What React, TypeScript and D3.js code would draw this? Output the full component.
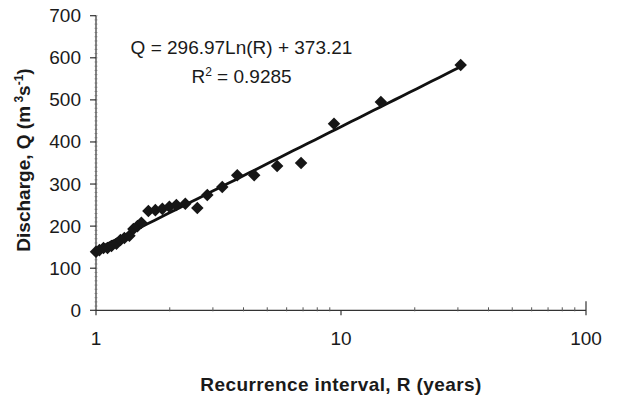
import React from "react";
import * as d3 from "d3";

const recurrence = [1.0, 1.033, 1.073, 1.114, 1.157, 1.212, 1.258, 1.306, 1.369, 1.421, 1.476, 1.532, 1.636, 1.747, 1.866, 1.993, 2.128, 2.315, 2.591, 2.846, 3.276, 3.771, 4.422, 5.487, 6.871, 9.365, 14.55, 30.8];
const discharge = [139, 143, 148, 148, 153, 158, 167, 172, 177, 193, 200, 208, 236, 238, 241, 246, 250, 253, 243, 274, 293, 321, 321, 343, 350, 443, 495, 583];
const yTicks = [0, 100, 200, 300, 400, 500, 600, 700];
const xTicks = [1, 10, 100];
const equationText = "Q = 296.97Ln(R) + 373.21";
const r2Value = "0.9285";

const W = 644, H = 398;
const left = 96, right = 586, top = 15.7, bottom = 310.3;

export default function App() {
  const x = d3.scaleLog().domain([1, 100]).range([left, right]);
  const y = d3.scaleLinear().domain([0, 700]).range([bottom, top]);

  // log regression fitted from the data
  const lx = recurrence.map((r) => Math.log(r));
  const mx = d3.mean(lx)!;
  const my = d3.mean(discharge)!;
  let sxy = 0, sxx = 0;
  lx.forEach((v, i) => { sxy += (v - mx) * (discharge[i] - my); sxx += (v - mx) * (v - mx); });
  const b = sxy / sxx;
  const a = my - b * mx;
  const rMin = d3.min(recurrence)!, rMax = d3.max(recurrence)!;
  const trendR = d3.range(0, 51).map((i) => rMin * Math.pow(rMax / rMin, i / 50));
  const line = d3.line<number>().x((r) => x(r)).y((r) => y(a + b * Math.log(r)));

  const minorX: number[] = [];
  [1, 10].forEach((dec) => { for (let k = 2; k <= 9; k++) minorX.push(dec * k); });
  const minorY = d3.range(0, 701, 10);

  const diamond = d3.symbol().type(d3.symbolDiamond2).size(100)();

  const font = "'Liberation Sans', Arial, sans-serif";
  return (
    <svg width={W} height={H} style={{ position: "absolute", left: 0, top: 0, background: "#fff" }} fontFamily={font}>
      <rect width={W} height={H} fill="#fff" />
      {/* Y axis */}
      <line x1={left} x2={left} y1={top} y2={bottom} stroke="#333" strokeWidth={1.2} />
      {minorY.map((v) => (
        <line key={"my" + v} x1={left - 1.5} x2={left + 1.5} y1={y(v)} y2={y(v)} stroke="#666" strokeWidth={0.6} />
      ))}
      {yTicks.map((v) => (
        <g key={"y" + v}>
          <line x1={left - 6} x2={left} y1={y(v)} y2={y(v)} stroke="#333" strokeWidth={1.2} />
          <text x={81} y={y(v) + 6.5} textAnchor="end" fontSize={19} fill="#1a1a1a">{v}</text>
        </g>
      ))}
      {/* X axis */}
      <line x1={left} x2={right} y1={bottom} y2={bottom} stroke="#333" strokeWidth={1.2} />
      {minorX.map((v) => (
        <line key={"mx" + v} x1={x(v)} x2={x(v)} y1={bottom - 3} y2={bottom + 1} stroke="#555" strokeWidth={1} />
      ))}
      {xTicks.map((v) => (
        <g key={"x" + v}>
          <line x1={x(v)} x2={x(v)} y1={v === 100 ? bottom - 9 : bottom} y2={bottom + 5} stroke="#333" strokeWidth={1.2} />
          <text x={x(v)} y={345} textAnchor="middle" fontSize={19} fill="#1a1a1a">{v}</text>
        </g>
      ))}
      {/* trend line */}
      <path d={line(trendR)!} fill="none" stroke="#111" strokeWidth={2.8} />
      {/* points */}
      {recurrence.map((r, i) => (
        <path key={"p" + i} d={diamond!} transform={`translate(${x(r)},${y(discharge[i])})`} fill="#161616" />
      ))}
      {/* equation */}
      <text x={241.5} y={54.3} textAnchor="middle" fontSize={19} fill="#1a1a1a">{equationText}</text>
      <text x={241.5} y={83.3} textAnchor="middle" fontSize={19} fill="#1a1a1a">
        R<tspan fontSize={12} dy={-7}>2</tspan><tspan dy={7}>{" = " + r2Value}</tspan>
      </text>
      {/* axis titles */}
      <text x={341} y={391} textAnchor="middle" fontSize={19} fontWeight="bold" fill="#1a1a1a" letterSpacing={0.4}>
        Recurrence interval, R (years)
      </text>
      <text transform="translate(30,160) rotate(-90)" textAnchor="middle" fontSize={19} fontWeight="bold" fill="#1a1a1a">
        Discharge, Q (m<tspan fontSize={12} dy={-7}> 3</tspan><tspan dy={7}>s</tspan><tspan fontSize={12} dy={-7}>-1</tspan><tspan dy={7}>)</tspan>
      </text>
    </svg>
  );
}
